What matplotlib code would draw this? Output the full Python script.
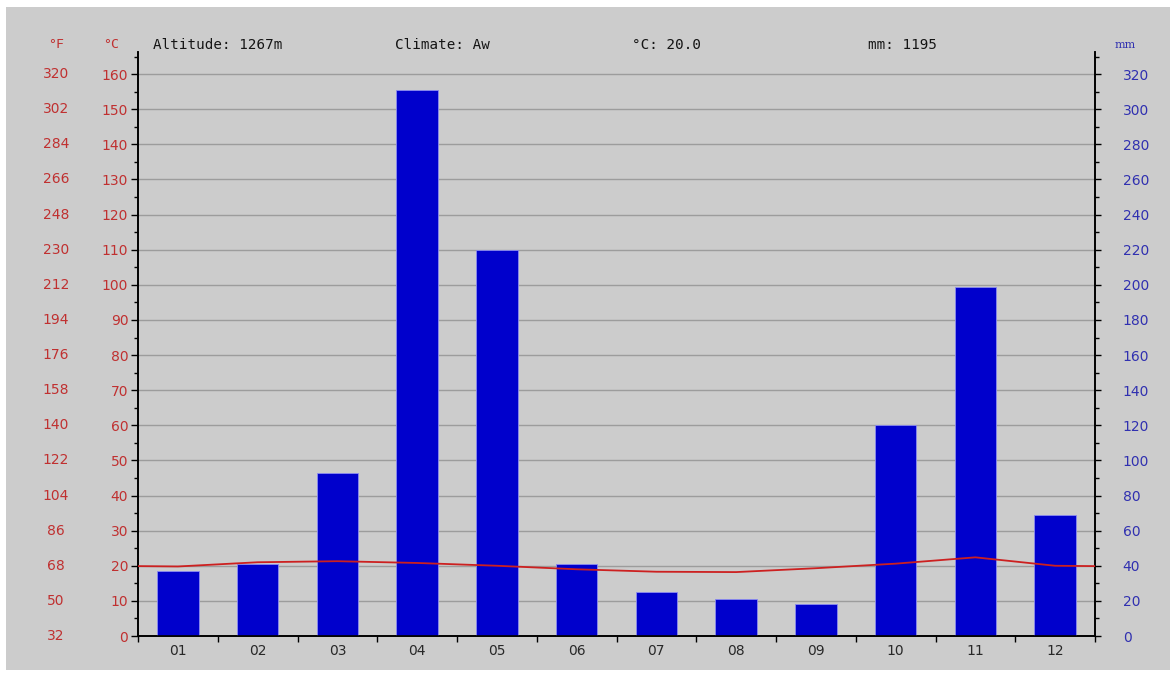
import matplotlib.pyplot as plt
from matplotlib.patches import Rectangle
from matplotlib.ticker import MultipleLocator
from matplotlib.transforms import blended_transform_factory
import numpy as np

# datos
meses = ['01', '02', '03', '04', '05', '06', '07', '08', '09', '10', '11', '12']
lluvia_mm = [37, 41, 93, 311, 220, 41, 25, 21, 18, 120, 199, 69]
temp_c = [19.8, 21.0, 21.3, 20.8, 20.0, 19.0, 18.3, 18.2, 19.3, 20.6, 22.4, 20.0]
temp_borde = 19.9   # valor de la linea en los bordes (dic/ene)
grados_c = [0, 10, 20, 30, 40, 50, 60, 70, 80, 90, 100, 110, 120, 130, 140, 150, 160]
grados_f = [32, 50, 68, 86, 104, 122, 140, 158, 176, 194, 212, 230, 248, 266, 284, 302, 320]
mm_ticks = [0, 20, 40, 60, 80, 100, 120, 140, 160, 180, 200, 220, 240, 260, 280, 300, 320]

rojo = '#c03030'
azul = '#3030b0'
fondo = '#cccccc'
W, H = 1176, 677

fig = plt.figure(figsize=(W / 100, H / 100), dpi=100)
fig.patch.set_facecolor('white')
fig.patches.append(Rectangle((6 / W, 7 / H), 1164 / W, 663 / H, transform=fig.transFigure,
                             facecolor=fondo, edgecolor='none', zorder=-10))

ymax = 166.3
ax = fig.add_axes([138 / W, 1 - 636 / H, (1095 - 138) / W, (636 - 52) / H])
ax.set_facecolor('none')
ax.set_xlim(0, 12)
ax.set_ylim(0, ymax)

# temperatura (eje izquierdo) y lluvia (eje derecho)
ax2 = ax.twinx()
ax2.set_ylim(0, 2 * ymax)
x = np.arange(12) + 0.5
ax2.bar(x, lluvia_mm, width=0.52, color='#0000cc', edgecolor='#8c8cf0', linewidth=0.6, zorder=2)
ax2.plot([0] + list(x) + [12], [2 * temp_borde] + [2 * t for t in temp_c] + [2 * temp_borde],
         color='#cc2020', linewidth=1.3, zorder=3)

for g in grados_c[1:]:
    ax.axhline(g, color='#9c9c9c', linewidth=1, zorder=1)

for a in (ax, ax2):
    a.spines['top'].set_visible(False)
    for s in ('left', 'right', 'bottom'):
        a.spines[s].set_color('black')
        a.spines[s].set_linewidth(1.2)

ax.set_yticks(grados_c)
ax.yaxis.set_minor_locator(MultipleLocator(5))
ax.tick_params(axis='y', which='major', length=5, width=1, colors='black', labelcolor=rojo,
               labelsize=10, pad=2)
ax.tick_params(axis='y', which='minor', length=3, width=1)
ax.set_xticks(range(13))
ax.set_xticklabels([])
ax.tick_params(axis='x', which='major', length=4, width=1)
ax.set_xticks(x, minor=True)
ax.set_xticklabels(meses, minor=True)
ax.tick_params(axis='x', which='minor', length=0, pad=6, labelsize=10, labelcolor='#282828')

ax2.set_yticks(mm_ticks)
ax2.yaxis.set_minor_locator(MultipleLocator(10))
ax2.tick_params(axis='y', which='major', length=4, width=1, labelcolor=azul, labelsize=10, pad=16)
ax2.tick_params(axis='y', which='minor', length=3, width=1)

# columna de grados Fahrenheit
tr = blended_transform_factory(fig.transFigure, ax.transData)
for c, f in zip(grados_c, grados_f):
    ax.text(56 / W, c, str(f), transform=tr, ha='center', va='center', color=rojo, fontsize=10)

# encabezados
yh = 1 - 45 / H
fig.text(56 / W, yh, '°F', ha='center', va='center', color=rojo, family='DejaVu Sans Mono', fontsize=9.5)
fig.text(111 / W, yh, '°C', ha='center', va='center', color=rojo, family='DejaVu Sans Mono', fontsize=9.5)
fig.text(1125 / W, yh, 'mm', ha='center', va='center', color=azul, family='DejaVu Serif', fontsize=8)
for xt, t in [(153, 'Altitude: 1267m'), (395, 'Climate: Aw'), (632, '°C: 20.0'), (868, 'mm: 1195')]:
    fig.text(xt / W, yh, t, ha='left', va='center', color='#151515', family='DejaVu Sans Mono', fontsize=10.3)

fig.savefig('out.png', dpi=100, facecolor='white')
